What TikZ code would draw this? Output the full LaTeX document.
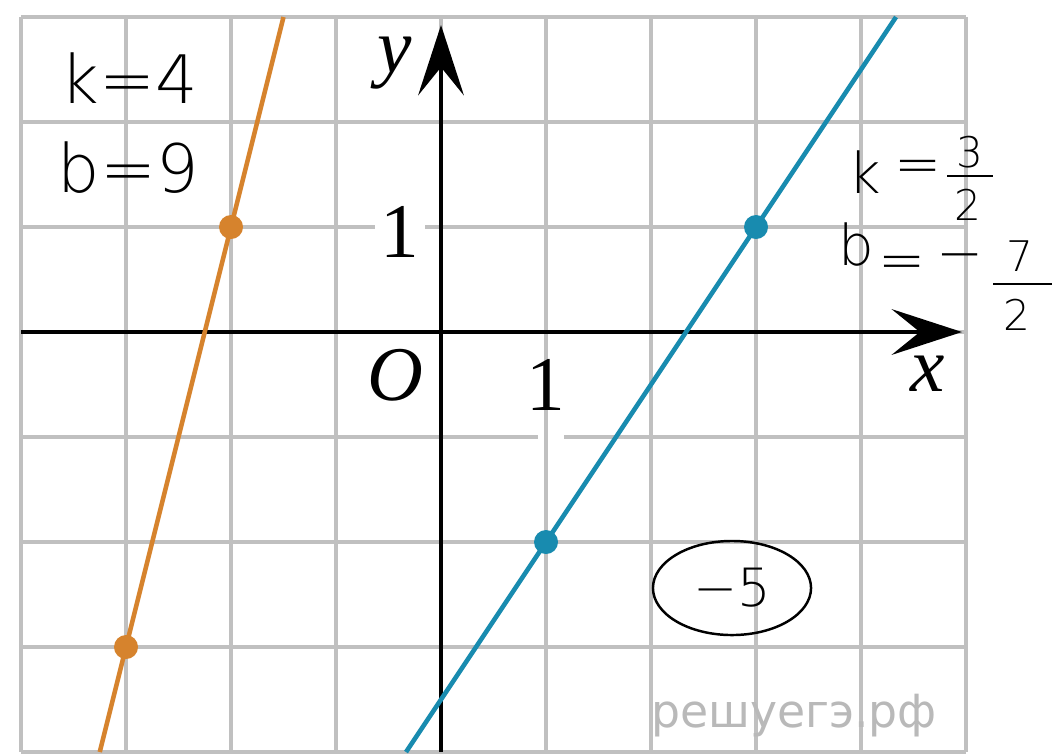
\documentclass[tikz,border=0pt]{standalone}
\usepackage{fontspec}
\setmainfont{Liberation Serif}
\newfontfamily\hand{DejaVu Sans ExtraLight}
\newfontfamily\wm{DejaVu Sans}
\usetikzlibrary{arrows.meta,shapes.geometric}
\definecolor{gridgray}{RGB}{192,192,192}
\definecolor{lineorange}{RGB}{214,131,45}
\definecolor{lineblue}{RGB}{24,139,175}
\definecolor{wmgray}{RGB}{185,185,185}
\begin{document}
\begin{tikzpicture}[x=0.01cm,y=-0.01cm,
  gridline/.style={draw=gridgray,line width=1.1pt},
  axis/.style={draw=black,line width=1.3pt,-{Stealth[length=20pt,width=13pt,inset=8pt]}},
  graphline/.style={line width=1.3pt},
  dot/.style={circle,inner sep=0pt,minimum size=0.24cm},
  axlabel/.style={font=\fontsize{22}{24}\selectfont,inner sep=0pt,anchor=base},
  handtext/.style={font=\hand\fontsize{19}{22}\selectfont,inner sep=0pt,anchor=base west},
  handglyph/.style={font=\hand\fontsize{16}{18}\selectfont,inner sep=0pt,anchor=center},
  handdigit/.style={font=\hand\fontsize{12}{14}\selectfont,inner sep=0pt,anchor=center},
  fracbar/.style={draw=black,line width=0.7pt},
]
\useasboundingbox (0,0) rectangle (1058,754);
\fill[white] (0,0) rectangle (1058,754);
% grid
\foreach \j in {0,...,7} \draw[gridline] (21,17+105*\j) -- (966,17+105*\j);
\fill[white] (375,200) rectangle (425,260);
\fill[white] (538,350) rectangle (564,442);
\foreach \i in {0,...,9} \draw[gridline] (21+105*\i,17) -- (21+105*\i,752);
% axes
\coordinate (xs) at (21,332);
\coordinate (xe) at (962,332);
\coordinate (ys) at (441,752);
\coordinate (ye) at (441,25);
\draw[axis] (xs) -- (xe);
\draw[axis] (ys) -- (ye);
% graphs
\coordinate (ob) at (99.75,752);
\coordinate (ot) at (283.5,17);
\coordinate (bb) at (406,752);
\coordinate (bt) at (896,17);
\draw[graphline,lineorange] (ob) -- (ot);
\draw[graphline,lineblue] (bb) -- (bt);
\node[dot,fill=lineorange] (o1) at (231,227) {};
\node[dot,fill=lineorange] (o2) at (126,647) {};
\node[dot,fill=lineblue] (b1) at (546,542) {};
\node[dot,fill=lineblue] (b2) at (756,227) {};
% axis labels
\node[axlabel] (ylab) at (395,72) {\itshape y};
\node[axlabel] (one-y) at (400,257) {1};
\node[axlabel] (olab) at (395,400) {\itshape O};
\node[axlabel] (one-x) at (546,410) {1};
\node[axlabel] (xlab) at (928,391) {\itshape x};
% handwritten notes, left
\node[handtext] (k1) at (60,103) {k=4};
\node[handtext] (b1n) at (57,192) {b=9};
% handwritten notes, right: k = 3/2
\node[handglyph,anchor=base west] (k2) at (848,193) {k};
\node[handglyph] (eq1) at (918,172) {=};
\node[handdigit] (n1) at (970,152) {3};
\coordinate (f1l) at (947,176);
\coordinate (f1r) at (993,176);
\draw[fracbar] (f1l) -- (f1r);
\node[handdigit] (d1) at (968,205) {2};
% b = - 7/2
\node[handglyph,anchor=base west] (b2n) at (838,265) {b};
\node[handglyph] (eq2) at (902,268) {=};
\node[handglyph] (mi) at (960,263) {−};
\node[handdigit] (n2) at (1020,256) {7};
\coordinate (f2l) at (993,284);
\coordinate (f2r) at (1052,284);
\draw[fracbar] (f2l) -- (f2r);
\node[handdigit] (d2) at (1017,315) {2};
% circled answer
\node[draw,ellipse,line width=0.7pt,inner sep=0pt,minimum width=1.58cm,minimum height=0.94cm,font=\hand\fontsize{15}{18}\selectfont] (c5) at (732,588) {−5};
% watermark
\node[font=\wm\fontsize{13}{15}\selectfont,text=wmgray,anchor=base,inner sep=0pt] (wm) at (794,727) {решуегэ.рф};
\end{tikzpicture}
\end{document}
